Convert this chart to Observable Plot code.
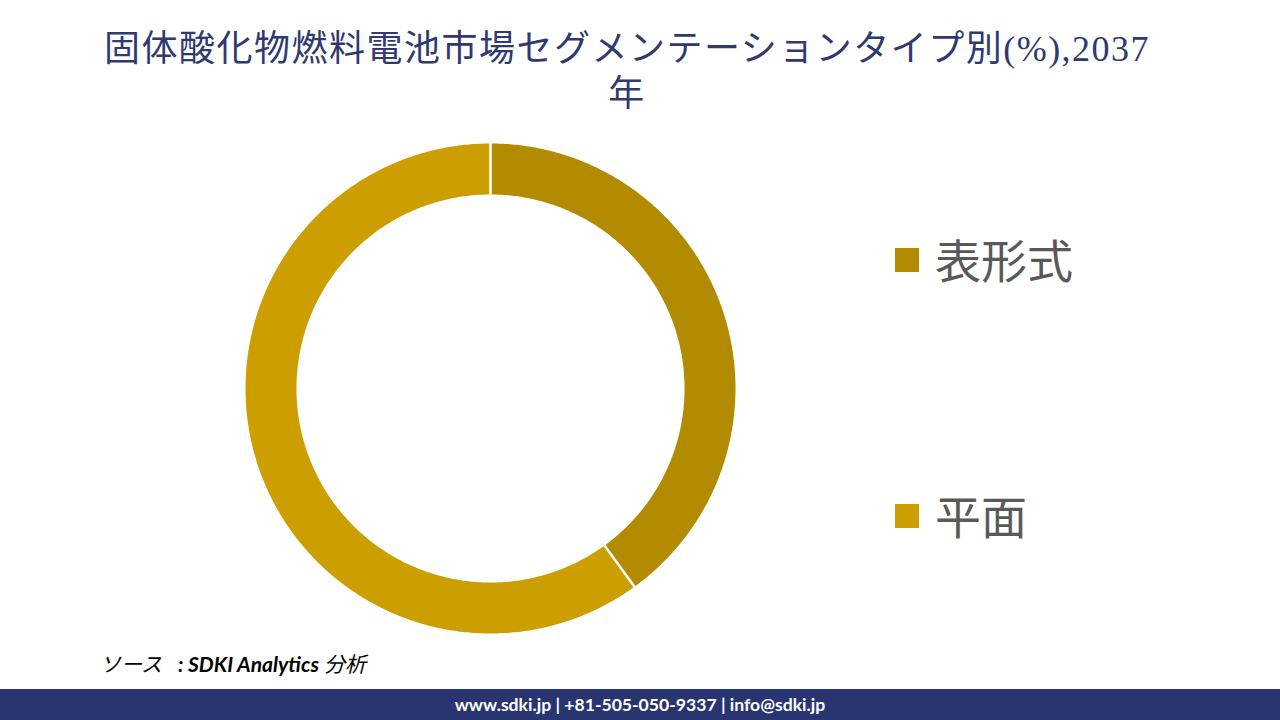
<!DOCTYPE html>
<html>
<head>
<meta charset="utf-8">
<script src="https://cdn.jsdelivr.net/npm/d3@7"></script>
<script src="https://cdn.jsdelivr.net/npm/@observablehq/plot@0.6"></script>
<style>
  html, body { margin: 0; padding: 0; background: #ffffff; }
  body { width: 1280px; height: 720px; position: relative; overflow: hidden; font-family: "Noto Sans CJK JP", sans-serif; }
  #title { position: absolute; left: 0; width: 1254px; top: 27px; text-align: center; font-family: "Liberation Serif", "Noto Sans CJK JP", serif; font-size: 36px; letter-spacing: 1.5px; line-height: 45px; color: #2e3a70; }
  #chart { position: absolute; left: 240px; top: 138px; }
  .leg { position: absolute; left: 895px; display: flex; align-items: center; font-size: 46px; color: #595959; }
  .leg .sw { width: 24px; height: 24px; margin-right: 16px; position: relative; top: 2px; }
  #source { position: absolute; left: 100px; top: 648px; font-family: Lato, "Noto Sans CJK JP", sans-serif; font-style: italic; font-size: 21px; color: #000; }
  #source b { font-weight: 700; margin-left: 16px; }
  #footer { position: absolute; left: 0; top: 689px; width: 1280px; height: 31px; background: #283570; color: #fff; text-align: center; font-family: Lato, "Open Sans", sans-serif; font-weight: 700; font-size: 17.6px; line-height: 31px; }
</style>
</head>
<body>
<div id="title">固体酸化物燃料電池市場セグメンテーションタイプ別(%),2037<br>年</div>
<div id="chart"></div>
<div id="legend"></div>
<div id="source">ソース<b>: SDKI Analytics</b> 分析</div>
<div id="footer">www.sdki.jp | +81-505-050-9337 | info@sdki.jp</div>
<script>
// Data
const categories = ["表形式", "平面"];
const shares = [40, 60];
const colors = ["#b38b00", "#cc9e00"];

// Geometry: donut ring outer radius 1, inner radius 0.792 (data units)
const innerR = 0.792;
const pie = d3.pie().sort(null).value(d => d.share);
const arcs = pie(categories.map((c, i) => ({name: c, share: shares[i]})));

const pts = [];
for (const a of arcs) {
  const n = Math.max(8, Math.ceil((a.endAngle - a.startAngle) / (Math.PI / 360)));
  const ring = [];
  for (let k = 0; k <= n; k++) {
    const t = a.startAngle + (a.endAngle - a.startAngle) * k / n;
    ring.push({name: a.data.name, x: Math.sin(t), y: Math.cos(t)});
  }
  for (let k = n; k >= 0; k--) {
    const t = a.startAngle + (a.endAngle - a.startAngle) * k / n;
    ring.push({name: a.data.name, x: innerR * Math.sin(t), y: innerR * Math.cos(t)});
  }
  ring.push(ring[0]);
  pts.push(...ring);
}
const seps = arcs.map(a => ({
  x1: innerR * Math.sin(a.startAngle), y1: innerR * Math.cos(a.startAngle),
  x2: 1.01 * Math.sin(a.startAngle), y2: 1.01 * Math.cos(a.startAngle)
}));

const plot = Plot.plot({
  width: 500, height: 500,
  marginTop: 5, marginBottom: 5, marginLeft: 5, marginRight: 5,
  x: {domain: [-1, 1], axis: null},
  y: {domain: [-1, 1], axis: null},
  color: {domain: categories, range: colors},
  marks: [
    Plot.line(pts, {x: "x", y: "y", z: "name", fill: "name", stroke: "none", curve: "linear"}),
    Plot.link(seps, {x1: "x1", y1: "y1", x2: "x2", y2: "y2", stroke: "white", strokeWidth: 2.5})
  ]
});
document.getElementById("chart").appendChild(plot);

// Legend
const legTops = [225, 481];
const legend = document.getElementById("legend");
categories.forEach((c, i) => {
  const el = document.createElement("div");
  el.className = "leg";
  el.style.top = legTops[i] + "px";
  el.innerHTML = `<div class="sw" style="background:${colors[i]}"></div><span>${c}</span>`;
  legend.appendChild(el);
});
</script>
</body>
</html>
